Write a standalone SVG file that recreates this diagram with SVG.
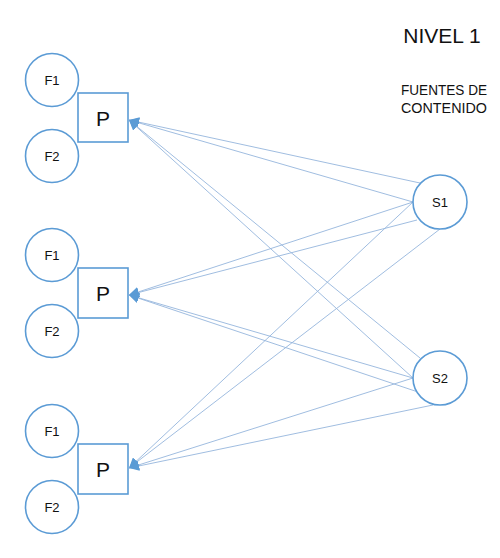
<svg xmlns="http://www.w3.org/2000/svg" width="500" height="558" viewBox="0 0 500 558">
<style>
.n{fill:#fff;stroke:#5b9bd5;stroke-width:1.6}
.t{font-family:"Liberation Sans",Arial,sans-serif;fill:#111;text-anchor:middle;dominant-baseline:central}
.c{stroke:#95b5dc;stroke-width:0.9;fill:none;marker-end:url(#ah)}
</style>
<defs>
<marker id="ah" viewBox="0 0 10 10" refX="10" refY="5" markerWidth="10" markerHeight="10" markerUnits="userSpaceOnUse" orient="auto">
<path d="M0,0 L10,5 L0,10 z" fill="#5b9bd5"/>
</marker>
</defs>
<rect width="500" height="558" fill="#fff"/>
<g id="connectors">
<line class="c" x1="420" y1="183" x2="129" y2="120"/>
<line class="c" x1="413" y1="202" x2="129" y2="120"/>
<line class="c" x1="420" y1="358" x2="129" y2="120"/>
<line class="c" x1="413" y1="378" x2="129" y2="120"/>
<line class="c" x1="413" y1="202" x2="129" y2="295"/>
<line class="c" x1="417" y1="220" x2="129" y2="295"/>
<line class="c" x1="413" y1="378" x2="129" y2="295"/>
<line class="c" x1="418" y1="392" x2="129" y2="295"/>
<line class="c" x1="413" y1="202" x2="129" y2="468"/>
<line class="c" x1="440" y1="229" x2="129" y2="468"/>
<line class="c" x1="413" y1="378" x2="129" y2="468"/>
<line class="c" x1="433" y1="405" x2="129" y2="468"/>
</g>
<g id="f1a"><circle class="n" cx="52" cy="80" r="26.5"/><text class="t" x="52" y="80" font-size="13">F1</text></g>
<g id="f2a"><circle class="n" cx="52" cy="156" r="26.5"/><text class="t" x="52" y="156" font-size="13">F2</text></g>
<g id="pa"><rect class="n" x="78" y="93" width="50" height="49"/><text class="t" x="103" y="118" font-size="21">P</text></g>
<g id="f1b"><circle class="n" cx="52" cy="255" r="26.5"/><text class="t" x="52" y="255" font-size="13">F1</text></g>
<g id="f2b"><circle class="n" cx="52" cy="331" r="26.5"/><text class="t" x="52" y="331" font-size="13">F2</text></g>
<g id="pb"><rect class="n" x="78" y="268" width="50" height="50"/><text class="t" x="103" y="293" font-size="21">P</text></g>
<g id="f1c"><circle class="n" cx="52" cy="431" r="26.5"/><text class="t" x="52" y="431" font-size="13">F1</text></g>
<g id="f2c"><circle class="n" cx="52" cy="507" r="26.5"/><text class="t" x="52" y="507" font-size="13">F2</text></g>
<g id="pc"><rect class="n" x="78" y="444" width="50" height="50"/><text class="t" x="103" y="469" font-size="21">P</text></g>
<g id="s1"><circle class="n" cx="440" cy="202" r="27"/><text class="t" x="440" y="202" font-size="13">S1</text></g>
<g id="s2"><circle class="n" cx="440" cy="378" r="27"/><text class="t" x="440" y="378" font-size="13">S2</text></g>
<g id="title">
<text x="442" y="43" font-family="'Liberation Sans',Arial,sans-serif" font-size="21" text-anchor="middle" fill="#111">NIVEL 1</text>
<text x="444" y="95" font-family="'Liberation Sans',Arial,sans-serif" font-size="14" text-anchor="middle" fill="#111" textLength="86" lengthAdjust="spacingAndGlyphs">FUENTES DE</text>
<text x="444" y="113" font-family="'Liberation Sans',Arial,sans-serif" font-size="14" text-anchor="middle" fill="#111" textLength="86" lengthAdjust="spacingAndGlyphs">CONTENIDO</text>
</g>
</svg>
